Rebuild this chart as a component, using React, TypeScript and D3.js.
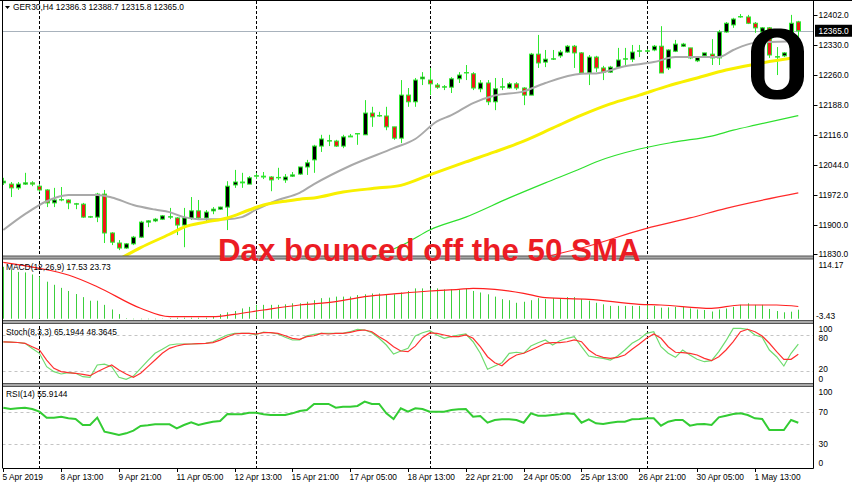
import React from "react";
import * as d3 from "d3";

// ---------- data ----------
const symbolHeader = "GER30,H4  12386.3 12388.7 12315.8 12365.0";
const annotation = "Dax bounced off the 50 SMA";

const xTickBars = [0, 8, 16, 24, 32, 40, 48, 56, 64, 72, 80, 88, 96, 104];
const xTickLabels = ["5 Apr 2019", "8 Apr 13:00", "9 Apr 21:00", "11 Apr 05:00", "12 Apr 13:00", "15 Apr 21:00", "17 Apr 05:00", "18 Apr 13:00", "22 Apr 21:00", "24 Apr 05:00", "25 Apr 13:00", "26 Apr 21:00", "30 Apr 05:00", "1 May 13:00"];
const weekSeparatorBars = [5, 35, 59, 89];

const priceTicks = [12402, 12330, 12260, 12188, 12116, 12044, 11972, 11900, 11830];
const lastPrice = 12365.0;

const opens = [12001,11998,11989,11998,12001,11993,11984,11953,11960,11960,11950,11950,11919,11919,11974,11881,11857,11845,11855,11871,11907,11910,11914,11919,11917,11900,11917,11934,11917,11934,11938,11943,11996,12001,11998,12017,12017,12015,12013,12008,12017,12022,12039,12056,12089,12101,12101,12089,12111,12118,12116,12168,12161,12161,12135,12108,12211,12195,12250,12247,12235,12230,12230,12250,12264,12262,12226,12240,12195,12230,12228,12238,12228,12211,12309,12290,12297,12305,12314,12328,12312,12264,12302,12276,12266,12278,12297,12297,12316,12316,12319,12328,12276,12316,12328,12324,12293,12305,12309,12300,12362,12379,12398,12398,12383,12362,12372,12302,12305,12326,12386.3];
const highs = [12013,12003,12003,12025,12005,11998,11986,11989,11991,11962,11953,11953,11922,11977,11984,11883,11864,11857,11874,11910,11912,11917,11924,11941,11919,11941,11967,11960,11936,11943,11944,12005,12032,12025,12017,12025,12027,12017,12037,12022,12027,12039,12056,12092,12116,12116,12104,12116,12118,12120,12199,12183,12171,12183,12135,12247,12228,12252,12266,12276,12240,12235,12254,12266,12283,12266,12247,12247,12252,12252,12242,12242,12230,12312,12355,12319,12319,12319,12331,12331,12314,12307,12305,12281,12281,12324,12324,12331,12331,12321,12331,12376,12321,12343,12336,12324,12302,12312,12345,12367,12386,12396,12405,12403,12386,12374,12374,12326,12314,12403,12388.7];
const lows = [11996,11967,11984,11996,11993,11979,11943,11943,11957,11938,11938,11917,11917,11907,11857,11852,11840,11843,11852,11869,11895,11907,11912,11914,11876,11847,11912,11912,11905,11926,11936,11888,11989,11989,11998,12010,12010,11981,12008,12001,12015,12020,12020,12025,12075,12089,12087,12084,12111,12092,12116,12135,12159,12127,12104,12096,12183,12183,12235,12211,12226,12223,12216,12240,12247,12223,12218,12187,12175,12223,12226,12223,12187,12211,12276,12278,12295,12300,12312,12276,12264,12235,12266,12247,12264,12276,12281,12290,12302,12314,12316,12264,12271,12314,12326,12297,12290,12302,12283,12283,12360,12372,12396,12381,12360,12362,12300,12259,12302,12312,12315.8];
const closes = [12005,11989,11998,12001,11998,11984,11953,11960,11961,11953,11951,11919,11920,11974,11881,11859,11845,11855,11871,11907,11910,11914,11922,11920,11900,11917,11934,11917,11931,11938,11943,11993,12003,12003,12013,12018,12015,12008,12014,12015,12020,12039,12049,12089,12106,12102,12089,12111,12113,12119,12168,12159,12162,12135,12108,12211,12195,12247,12254,12238,12230,12231,12250,12259,12265,12228,12240,12195,12226,12231,12238,12228,12211,12309,12288,12297,12298,12314,12328,12312,12264,12302,12276,12266,12278,12295,12298,12314,12317,12317,12328,12264,12319,12333,12333,12300,12302,12312,12300,12362,12383,12393,12399,12383,12372,12372,12307,12303,12312,12383,12365.0];

// moving averages (bar index -> value)
const sma20Bars = [0,3,6,9,13,15,18,21,23,25,27,31,33,35,38,41,43,48,54,57,60,62,65,68,72,75,80,82,86,90,93,99,101,104,110];
const sma20Values = [11888,11926,11957,11972,11972,11966,11948,11937,11931,11919,11914,11914,11919,11937,11960,11977,11998,12042,12084,12106,12148,12163,12192,12210,12220,12240,12262,12263,12280,12290,12302,12302,12319,12336,12340];
const sma50Bars = [16,19,23,25,28,31,34,36,39,41,43,47,52,55,59,64,68,72,76,80,84,88,92,96,100,104,110];
const sma50Values = [11818,11846,11878,11895,11907,11917,11936,11948,11957,11962,11965,11979,11989,11995,12020,12051,12075,12101,12132,12163,12190,12211,12233,12252,12271,12285,12302];
const sma100Bars = [50,56,59,64,70,75,80,82,88,93,98,101,104,110];
const sma100Values = [11815,11859,11888,11919,11965,12001,12036,12051,12082,12099,12113,12127,12139,12162];
const sma200Bars = [74,80,89,95,100,110];
const sma200Values = [11820,11845,11892,11917,11940,11977];

// MACD(12,26,9)
const macdLabel = "MACD(12,26,9) 17.53 23.73";
const macdScaleLabels = ["114.17", "-3.43"];
const macdMax = 114.17, macdMin = -3.43;
const macdHist = [101,95,91,90,86,82,72,66,60,54,48,42,35,35,27,18,9,1,-1,-1,-1,-1,-0.5,1,2,2,2,2,2,4,9,12.5,15,20,23,27,27,27,27,28,30,30,33,36,40,41,43,43,43,46,47.5,49,49,47.5,47.5,51,54,59,59,59,59,57,57,57,59,54,51,47.5,43,38,36,31,33,36,40,38,40,40,42,42,38,35,31,28,25,25,25,25,25,27,25,21.5,22,23,23,20,18,17,14,18,20,23,27,30,27,27,19,15,12.5,13.7,17.53];
const macdSignalBars = [0,5,9,13,19,23,29,32,36,41,46,50,55,59,63,65,68,72,75,81,88,91,98,102,107,110];
const macdSignalValues = [109.7,98,85,62.3,20.3,4,4,8.6,17,26.7,33.1,42.8,49.4,53.9,57.2,59.1,57.2,49.4,40.9,37.8,28.1,26.7,20.3,26.7,26.7,23.73];

// Stochastic(8,3,3)
const stochLabel = "Stoch(8,3,3) 65.1944 48.3645";
const stochLevels = [80, 20];
const stochScaleLabels = [100, 80, 20, 0];
const stochMain = [69,68.5,68,66.7,58,50,27.7,19.4,15.5,17.7,16.7,11,10,30.5,32,27.7,10,6.7,12,25,37.7,50,56.7,63.8,65.5,65.5,65.5,66,66.5,69.3,75,80.5,83.3,83.3,83.3,81,85.5,84.3,82.2,76.7,72.2,72.2,79.3,81.6,83.3,83.3,83.3,83.3,86,90,88.8,84.3,75,63.8,48.8,53.8,58.3,79,84.3,87.7,80.5,75,77.7,80.5,82.2,69.3,50,23.3,28.8,34.3,50,51.7,50,62.2,67.7,72.2,63.8,71,75,77.7,61,45.5,43.3,41.6,38.8,45.5,55.5,66.7,73.3,83.3,86,61,50,43.3,55.5,47.2,40,36,37.7,52.7,71,91.6,91.6,90,80.5,76.7,55.5,44.3,28.8,50,65.19];
const stochSignal = [69,68.5,68,66.7,61,55.5,38.8,25,19.4,17.7,16.7,15,12.7,19.4,25,30.5,22,15.5,10,16.7,27.7,38.8,50,58.3,62.2,65,65.5,66,66.5,67.7,72,77.7,82.2,83.3,83.3,82.2,84.3,84.3,83.3,79.3,75,73.3,77.7,79.3,83.3,82.2,83.3,83.3,85,87.7,88.8,86,77.7,70.5,61,53.8,52.7,62,76,84,83.3,80.5,77.7,77.7,80.5,75,61,44.3,34.3,29.3,40,47.2,50,55.5,61,66.7,67.7,67.7,69.3,72.2,69.3,55.5,47.2,43.3,41.6,43.3,47.2,56.7,65.5,75,82.2,75,61,51.7,51.1,50,47.2,41.6,37.7,44.3,55.5,69.3,86,90,86,78.8,66.7,52.7,40,40,48.36];

// RSI(14)
const rsiLabel = "RSI(14) 55.9144";
const rsiLevels = [70, 30];
const rsiScaleLabels = [100, 70, 30, 0];
const rsiValues = [74.8,73.1,74,74.8,73.1,69.8,62.3,62.3,63.5,61.5,60.6,53.1,53.1,62.3,44.8,42.7,40.6,42.7,46,51.9,52.7,54,54,54,49,53.1,56.5,53.1,55.2,57.3,58.1,66.9,66.5,66.5,68.5,68.5,66.5,65.6,65.6,65.6,67.7,70.6,71.9,79.4,79.4,79.4,74.8,76,76,76.9,82.3,79.4,79.4,67.7,60.6,74,69.8,74,73,69.8,69.8,69.8,71.9,72.7,73.1,63.5,64.4,56,59.4,60.2,60.2,59.4,56,67.7,64.8,64.8,65.6,66.5,67.7,66.9,56,60.2,55.2,54.4,56,57.3,57.3,60.2,60.6,61.5,61.5,52.3,57.3,59.4,59.4,52.3,54,54.4,53.1,62.7,64.8,66.9,67.7,65.6,61.5,60.6,46.9,46.9,46.9,59.4,55.91];

// ---------- layout ----------
const W = 852, H = 485;
const LEFT = 2.5, AXIS_X = 813.5;
const FONT = "'Liberation Sans', Arial, sans-serif";
const FS = 8.4;
const WICK = "#2ee82e";

function roundedRect(p: d3.Path, x: number, y: number, w: number, h: number, r: number) {
  p.moveTo(x + r, y);
  p.lineTo(x + w - r, y);
  p.arcTo(x + w, y, x + w, y + r, r);
  p.lineTo(x + w, y + h - r);
  p.arcTo(x + w, y + h, x + w - r, y + h, r);
  p.lineTo(x + r, y + h);
  p.arcTo(x, y + h, x, y + h - r, r);
  p.lineTo(x, y + r);
  p.arcTo(x, y, x + r, y, r);
  p.closePath();
}

export default function App() {
  const x = d3.scaleLinear().domain([0, 110]).range([3.3, 798.3]);
  const yMain = d3.scaleLinear().domain([11830, 12402]).range([254.3, 15.3]);
  const yMacd = d3.scaleLinear().domain([macdMin, macdMax]).range([320.5, 260]);
  const yStoch = d3.scaleLinear().domain([0, 100]).range([383.3, 323.3]);
  const yRsi = d3.scaleLinear().domain([0, 100]).range([467.5, 387.5]);

  const px = (i: number) => Math.round(x(i)) + 0.5;

  const maLine = (bars: number[], vals: number[]) =>
    d3.line<number>().x((_, k) => x(bars[k])).y((v) => yMain(v)).curve(d3.curveMonotoneX)(vals) || "";

  const seriesLine = (vals: number[], ys: d3.ScaleLinear<number, number>) =>
    d3.line<number>().x((_, k) => x(k)).y((v) => ys(v))(vals) || "";

  const sigLine = d3.line<number>().x((_, k) => x(macdSignalBars[k])).y((v) => yMacd(v)).curve(d3.curveMonotoneX)(macdSignalValues) || "";

  const oPath = d3.path();
  roundedRect(oPath, 751, 28.5, 53, 71, 23);
  roundedRect(oPath, 764.5, 37.5, 25, 52.5, 12);

  const panes = [
    { id: "clipMain", y0: 1, y1: 256 },
    { id: "clipMacd", y0: 259.5, y1: 320.5 },
    { id: "clipStoch", y0: 323.2, y1: 383.5 },
    { id: "clipRsi", y0: 386.5, y1: 468 },
  ];

  const separators = [256, 320.5, 383.5];
  const stochLabelY: Record<number, number> = { 100: 328.5, 80: 338, 20: 369, 0: 379.2 };

  return (
    <svg width={W} height={H} style={{ position: "fixed", left: 0, top: 0, background: "#fff" }} fontFamily={FONT}>
      <defs>
        {panes.map((p) => (
          <clipPath id={p.id} key={p.id}>
            <rect x={LEFT} y={p.y0} width={AXIS_X - LEFT} height={p.y1 - p.y0} />
          </clipPath>
        ))}
      </defs>
      <rect x={0} y={0} width={W} height={H} fill="#fff" />

      {/* weekly separators */}
      {weekSeparatorBars.map((b) => (
        <line key={b} x1={px(b)} x2={px(b)} y1={1} y2={468} stroke="#000" strokeDasharray="3,2" />
      ))}

      {/* main pane */}
      <g clipPath="url(#clipMain)">
        <line x1={LEFT} x2={AXIS_X} y1={Math.round(yMain(lastPrice)) + 0.5} y2={Math.round(yMain(lastPrice)) + 0.5} stroke="#a8b2bc" />
        {opens.map((o, i) => {
          const c = closes[i];
          const bull = c >= o;
          const cx = px(i);
          const top = yMain(Math.max(o, c));
          const bot = yMain(Math.min(o, c));
          return (
            <g key={i}>
              <line x1={cx} x2={cx} y1={yMain(highs[i])} y2={yMain(lows[i])} stroke={WICK} />
              <rect x={cx - 2} y={top} width={4} height={Math.max(bot - top, 0.3)} fill={bull ? "#000" : "#f01818"} stroke={WICK} />
            </g>
          );
        })}
        <path d={maLine(sma200Bars, sma200Values)} fill="none" stroke="#ff2a2a" strokeWidth={1.2} />
        <path d={maLine(sma100Bars, sma100Values)} fill="none" stroke="#2ee02e" strokeWidth={1.2} />
        <path d={maLine(sma20Bars, sma20Values)} fill="none" stroke="#a9a9a9" strokeWidth={2} />
        <path d={maLine(sma50Bars, sma50Values)} fill="none" stroke="#f8f000" strokeWidth={3} />
      </g>

      {/* MACD pane */}
      <g clipPath="url(#clipMacd)">
        {macdHist.map((v, i) => (
          <line key={i} x1={px(i)} x2={px(i)} y1={yMacd(0)} y2={yMacd(v)} stroke="#3ccf3c" />
        ))}
        <path d={sigLine} fill="none" stroke="#ff2020" strokeWidth={1.2} />
      </g>

      {/* Stochastic pane */}
      <g clipPath="url(#clipStoch)">
        {stochLevels.map((l) => (
          <line key={l} x1={LEFT} x2={AXIS_X} y1={Math.round(yStoch(l)) + 0.5} y2={Math.round(yStoch(l)) + 0.5} stroke="#c4c4c4" strokeDasharray="3,3" />
        ))}
        <path d={seriesLine(stochMain, yStoch)} fill="none" stroke="#6fdc6f" strokeWidth={1.2} />
        <path d={seriesLine(stochSignal, yStoch)} fill="none" stroke="#ff3030" strokeWidth={1.2} />
      </g>

      {/* RSI pane */}
      <g clipPath="url(#clipRsi)">
        {rsiLevels.map((l) => (
          <line key={l} x1={LEFT} x2={AXIS_X} y1={Math.round(yRsi(l)) + 0.5} y2={Math.round(yRsi(l)) + 0.5} stroke="#c4c4c4" strokeDasharray="3,3" />
        ))}
        <path d={seriesLine(rsiValues, yRsi)} fill="none" stroke="#33cc33" strokeWidth={2} />
      </g>

      {/* annotations */}
      <path d={oPath.toString()} fill="#000" fillRule="evenodd" />

      {/* pane separators and frame */}
      {separators.map((s) => (
        <g key={s}>
          <rect x={LEFT} y={s} width={AXIS_X - LEFT} height={3} fill="#a8a8a8" />
          <line x1={LEFT} x2={AXIS_X} y1={s} y2={s} stroke="#555" />
          <line x1={LEFT} x2={AXIS_X} y1={s + 3} y2={s + 3} stroke="#555" />
        </g>
      ))}
      <text x={218} y={260.5} fill="#ec1c24" fontSize={31.3} fontWeight="bold" fontFamily={FONT}>{annotation}</text>

      <line x1={0} x2={W} y1={0.5} y2={0.5} stroke="#000" />
      <line x1={LEFT} x2={LEFT} y1={0} y2={468} stroke="#000" />
      <line x1={AXIS_X} x2={AXIS_X} y1={0} y2={468.5} stroke="#000" />
      <line x1={LEFT} x2={AXIS_X} y1={468.5} y2={468.5} stroke="#000" />

      {/* header & indicator labels */}
      <path d="M5,6 L10,6 L7.5,9 Z" fill="#000" />
      <text x={13} y={10.3} fontSize={FS} fill="#000">{symbolHeader}</text>
      <text x={6} y={270} fontSize={FS} fill="#000">{macdLabel}</text>
      <text x={6} y={335} fontSize={FS} fill="#000">{stochLabel}</text>
      <text x={6} y={396.5} fontSize={FS} fill="#000">{rsiLabel}</text>

      {/* price axis */}
      {priceTicks.map((t) => (
        <g key={t}>
          <line x1={AXIS_X} x2={AXIS_X + 4} y1={Math.round(yMain(t)) + 0.5} y2={Math.round(yMain(t)) + 0.5} stroke="#000" />
          <text x={818.5} y={yMain(t) + 3} fontSize={FS} fill="#000">{t.toFixed(1)}</text>
        </g>
      ))}
      <rect x={815} y={yMain(lastPrice) - 6} width={37} height={12} fill="#000" />
      <text x={818.5} y={yMain(lastPrice) + 3} fontSize={FS} fill="#fff">{lastPrice.toFixed(1)}</text>

      {/* MACD axis */}
      <text x={818.5} y={268} fontSize={FS} fill="#000">{macdScaleLabels[0]}</text>
      <text x={816} y={319} fontSize={FS} fill="#000">{macdScaleLabels[1]}</text>

      {/* Stoch axis */}
      {stochScaleLabels.map((l) => (
        <text key={l} x={818.5} y={stochLabelY[l] + 3} fontSize={FS} fill="#000">{l}</text>
      ))}
      {/* RSI axis */}
      {rsiScaleLabels.map((l) => {
        const yy = Math.min(Math.max(yRsi(l), 391.7), 462.7);
        return <text key={l} x={818.5} y={yy + 3} fontSize={FS} fill="#000">{l}</text>;
      })}

      {/* time axis */}
      {xTickBars.map((b, k) => (
        <g key={b}>
          <line x1={px(b)} x2={px(b)} y1={468} y2={472} stroke="#000" />
          <text x={px(b) - 1} y={480} fontSize={FS} fill="#000">{xTickLabels[k]}</text>
        </g>
      ))}
    </svg>
  );
}
